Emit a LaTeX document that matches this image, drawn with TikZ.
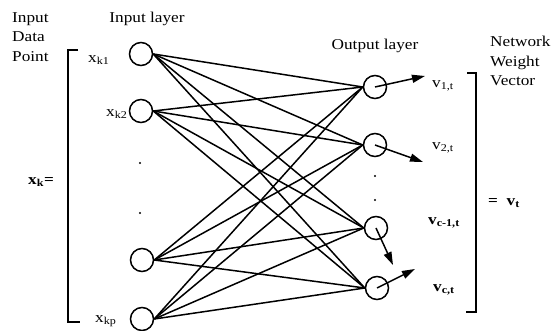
\documentclass[tikz,border=0pt]{standalone}
\usepackage{fontspec}
\setmainfont[FakeStretch=1.15]{Liberation Serif}
\usetikzlibrary{arrows.meta}
\begin{document}
\begin{tikzpicture}[x=1pt,y=-1pt,
  neuron/.style={circle,draw,line width=1.5pt,minimum size=23pt,inner sep=0pt},
  conn/.style={line width=1.5pt},
  outarrow/.style={line width=1.5pt,-{Triangle[length=13pt,width=8pt]}},
  lbl/.style={font=\fontsize{15}{19.5}\selectfont,inner sep=0pt},
  sym/.style={font=\fontsize{15}{16}\selectfont,inner sep=0pt,anchor=west},
  bsym/.style={sym,font=\fontsize{15}{16}\selectfont\bfseries},
  dotnode/.style={circle,fill,inner sep=0pt,minimum size=2.4pt},
  brk/.style={line width=1.8pt}]
\useasboundingbox (0,0) rectangle (555,331);

% neurons
\node[neuron] (i1) at (141,54) {};
\node[neuron] (i2) at (141,111) {};
\node[neuron] (i3) at (142,260) {};
\node[neuron] (i4) at (142,319) {};
\node[neuron] (o1) at (375,87) {};
\node[neuron] (o2) at (375,145) {};
\node[neuron] (o3) at (376,228) {};
\node[neuron] (o4) at (377,288) {};

% connections
\foreach \i in {1,...,4}{
  \foreach \o in {1,...,4}{
    \draw[conn] (i\i.east) -- (o\o.west);
  }
}

% ellipsis dots
\node[dotnode] (di1) at (140,163) {};
\node[dotnode] (di2) at (140,213) {};
\node[dotnode] (do1) at (375,176) {};
\node[dotnode] (do2) at (375,200) {};

% output arrows
\coordinate (t1) at (425,76);
\coordinate (t2) at (423,162);
\coordinate (t3) at (393,265);
\coordinate (t4) at (415,269);
\draw[outarrow] (o1.center) -- (t1);
\draw[outarrow] (o2.center) -- (t2);
\draw[outarrow] (o3.center) -- (t3);
\draw[outarrow] (o4.center) -- (t4);

% brackets
\draw[brk] (78,50) -- (68,50) -- (68,322) -- (80,322);
\draw[brk] (467,73) -- (476,73) -- (476,312) -- (466,312);

% titles
\node[lbl,align=left,anchor=north west] (idp) at (12,12) {Input\\Data\\Point};
\node[lbl] (il) at (147,19) {Input layer};
\node[lbl] (ol) at (375,46) {Output layer};
\node[lbl,align=left,anchor=north west] (nwv) at (490,36) {Network\\Weight\\Vector};

% input labels
\node[sym] (xk1) at (88,60) {x\textsubscript{k1}};
\node[sym] (xk2) at (106,114) {x\textsubscript{k2}};
\node[sym] (xkp) at (95,321) {x\textsubscript{kp}};
\node[bsym] (xk) at (28,182) {x\textsubscript{k}=};

% output labels
\node[sym] (v1) at (432,86) {v\textsubscript{1,t}};
\node[sym] (v2) at (432,148) {v\textsubscript{2,t}};
\node[bsym] (vc1) at (428,223) {v\textsubscript{c-1,t}};
\node[bsym] (vc) at (433,290) {v\textsubscript{c,t}};
\node[bsym] (vt) at (488,203) {=~~v\textsubscript{t}};
\end{tikzpicture}
\end{document}
